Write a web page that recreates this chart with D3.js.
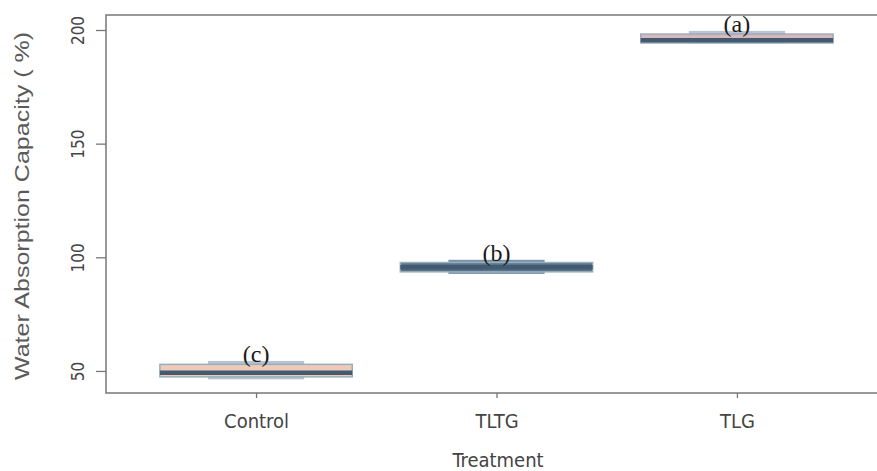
<!DOCTYPE html>
<html>
<head>
<meta charset="utf-8">
<script src="https://cdn.jsdelivr.net/npm/d3@7"></script>
<style>
  body { margin: 0; background: #fff; }
  svg { display: block; }
</style>
</head>
<body>
<div id="chart"></div>
<script>
// values
var categories = ['Control', 'TLTG', 'TLG'];
var whiskerMin = [46.3, 92.7, 194.0];
var q1 = [47.4, 93.6, 194.3];
var median = [49.2, 95.6, 195.5];
var q3 = [52.9, 97.7, 198.2];
var whiskerMax = [54.4, 98.9, 199.6];
var letters = ['(c)', '(b)', '(a)'];
var yTicks = [50, 100, 150, 200];

var boxFill = ['#efcab8', '#587389', '#dbb6bc'];
var stapleFill = ['#b4c4d0', '#7a93a7', '#b4c4d0'];

var width = 877, height = 471;
var svg = d3.select('#chart').append('svg')
  .attr('width', width)
  .attr('height', height);

var x = d3.scaleLinear().domain([0.38, 3.62]).range([107, 886]);
var y = d3.scaleLinear().domain([40.3, 206.6]).range([393, 15]);

var boxes = categories.map(function(c, i) {
  return { name: c, i: i + 1, min: whiskerMin[i], q1: q1[i], med: median[i], q3: q3[i], max: whiskerMax[i], letter: letters[i] };
});

// whisker range, drawn as the narrow light block
svg.selectAll('.staple').data(boxes).enter().append('rect')
  .attr('x', function(d) { return x(d.i - 0.2); })
  .attr('width', x(0.4) - x(0))
  .attr('y', function(d) { return y(d.max); })
  .attr('height', function(d) { return y(d.min) - y(d.max); })
  .attr('fill', function(d, i) { return stapleFill[i]; });

// boxes
svg.selectAll('.box').data(boxes).enter().append('rect')
  .attr('x', function(d) { return x(d.i - 0.4); })
  .attr('width', x(0.8) - x(0))
  .attr('y', function(d) { return y(d.q3); })
  .attr('height', function(d) { return y(d.q1) - y(d.q3); })
  .attr('fill', function(d, i) { return boxFill[i]; })
  .attr('stroke', '#9aadbb')
  .attr('stroke-width', 1.5);

// medians
svg.selectAll('.median').data(boxes).enter().append('line')
  .attr('x1', function(d) { return x(d.i - 0.4); })
  .attr('x2', function(d) { return x(d.i + 0.4); })
  .attr('y1', function(d) { return y(d.med); })
  .attr('y2', function(d) { return y(d.med); })
  .attr('stroke', '#425b70')
  .attr('stroke-width', 4.5);

// frame
svg.append('rect')
  .attr('x', 106).attr('y', 15)
  .attr('width', 780).attr('height', 378)
  .attr('fill', 'none')
  .attr('stroke', '#777')
  .attr('stroke-width', 1.5);

// letters
svg.selectAll('.letter').data(boxes).enter().append('text')
  .attr('x', function(d) { return x(d.i); })
  .attr('y', function(d) { return y(d.max) + 1; })
  .attr('text-anchor', 'middle')
  .attr('font-family', '"Liberation Serif", "Times New Roman", serif')
  .attr('font-size', 24)
  .attr('fill', '#1a1a1a')
  .text(function(d) { return d.letter; });

// y axis
var yAxis = svg.append('g')
  .attr('transform', 'translate(106,0)')
  .call(d3.axisLeft(y).tickValues(yTicks).tickSize(10).tickPadding(0).tickFormat(d3.format('d')));
yAxis.select('.domain').remove();
yAxis.selectAll('line').attr('stroke', '#777').attr('stroke-width', 1.3);
yAxis.selectAll('text')
  .attr('x', null).attr('dy', null)
  .attr('text-anchor', 'middle')
  .attr('transform', 'translate(-28,0) rotate(-90)')
  .attr('dy', '0.35em')
  .attr('font-family', '"DejaVu Sans Condensed", "Liberation Sans Narrow", sans-serif')
  .attr('font-size', 17)
  .attr('fill', '#444');

// x axis
var xAxis = svg.append('g')
  .attr('transform', 'translate(0,393)')
  .call(d3.axisBottom(x).tickValues([1, 2, 3]).tickSize(5).tickPadding(16)
    .tickFormat(function(d) { return categories[d - 1]; }));
xAxis.select('.domain').remove();
xAxis.selectAll('line').attr('stroke', '#777').attr('stroke-width', 1.3);
xAxis.selectAll('text')
  .attr('font-family', '"DejaVu Sans Condensed", "Liberation Sans Narrow", sans-serif')
  .attr('font-size', 20)
  .attr('fill', '#444');

// axis titles
svg.append('text')
  .attr('transform', 'translate(29,206) rotate(-90)')
  .attr('text-anchor', 'middle')
  .attr('font-family', '"Liberation Sans", Arial, sans-serif')
  .attr('font-size', 20)
  .attr('textLength', 348)
  .attr('lengthAdjust', 'spacingAndGlyphs')
  .attr('fill', '#5a5a5a')
  .text('Water Absorption Capacity ( %)');

svg.append('text')
  .attr('x', 498).attr('y', 467)
  .attr('text-anchor', 'middle')
  .attr('font-family', '"DejaVu Sans Condensed", "Liberation Sans Narrow", sans-serif')
  .attr('font-size', 20)
  .attr('fill', '#444')
  .text('Treatment');
</script>
</body>
</html>
